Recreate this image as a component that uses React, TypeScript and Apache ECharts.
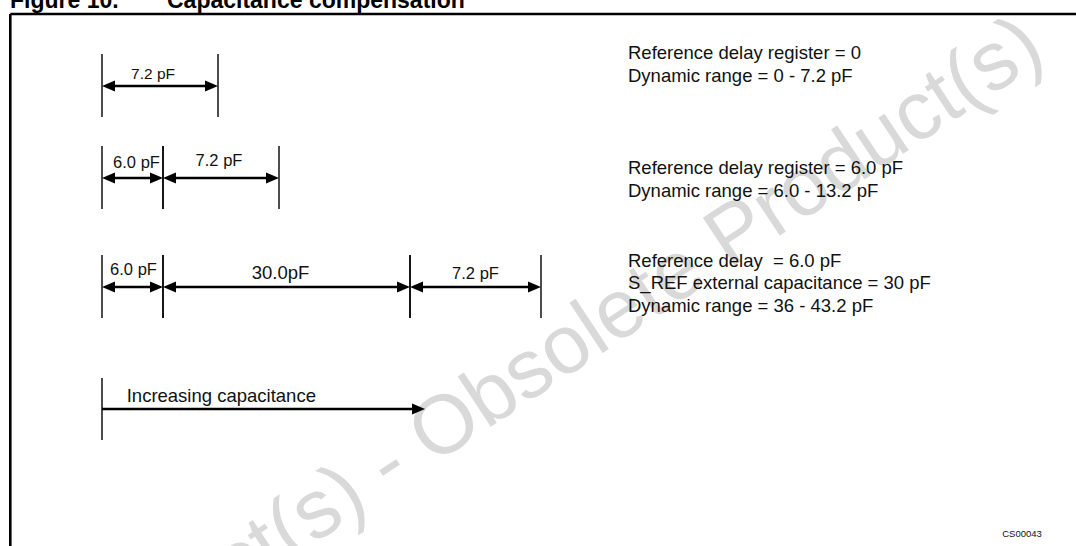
import React, { useEffect, useRef } from "react";
import * as echarts from "echarts";

const W = 1076;
const H = 546;

// ---- content / data ----
const titleNumber = "Figure 10.";
const titleText = "Capacitance compensation";

// dimension segments (positions in figure units along the hidden x axis)
const segmentRow = [0, 1, 1, 2, 2, 2];
const segmentStart = [102, 102, 163, 102, 163, 410];
const segmentEnd = [218, 163, 279, 163, 410, 541];
const segmentLabels = ["7.2 pF", "6.0 pF", "7.2 pF", "6.0 pF", "30.0pF", "7.2 pF"];
const rowLevels = [86, 178, 287];

// "increasing capacitance" arrow
const trendStart = 102;
const trendEnd = 425;
const trendLevel = 409;
const trendLabel = "Increasing capacitance";

const noteBlock1 = ["Reference delay register = 0", "Dynamic range = 0 - 7.2 pF"];
const noteBlock2 = ["Reference delay register = 6.0 pF", "Dynamic range = 6.0 - 13.2 pF"];
const noteBlock3 = [
  "Reference delay  = 6.0 pF",
  "S_REF external capacitance = 30 pF",
  "Dynamic range = 36 - 43.2 pF",
];
const figureCode = "CS00043";
const watermark = "Obsolete Product(s) - Obsolete Product(s)";

// ---- styles / layout ----
const FONT = "'Liberation Sans', Arial, Helvetica, sans-serif";
const labelFontSizes = [15.5, 16.5, 16.5, 16.5, 18.5, 16.5];
const labelDx = [-7, 4, -2, 1, -6, 0];
const labelDy = [-13, -15.6, -17.6, -18.4, -14.4, -14.4];
const NOTE_SIZE = 18.5;
const NOTE_LINE = 22.4;
const noteBaselines = [59.3, 174.3, 266.7];

export default function App() {
  const ref = useRef<HTMLDivElement>(null);

  useEffect(() => {
    if (!ref.current) return;
    const chart = echarts.init(ref.current, undefined, { renderer: "svg" });

    const arrowHead = (tipX: number, y: number, dir: number) => ({
      type: "polygon",
      shape: {
        points: [
          [tipX, y],
          [tipX - dir * 13, y - 5.5],
          [tipX - dir * 13, y + 5.5],
        ],
      },
      style: { fill: "#000" },
    });

    const tick = (x: number, y: number) => ({
      type: "line",
      shape: { x1: x, y1: y - 32, x2: x, y2: y + 31 },
      style: { stroke: "#000", lineWidth: 1.4 },
    });

    const textEl = (
      text: string,
      x: number,
      y: number,
      size: number,
      align: string,
      extra: any = {}
    ) => ({
      type: "text",
      x,
      y,
      style: {
        text,
        fill: "#111",
        fontSize: size,
        fontFamily: FONT,
        align,
        textAlign: align,
        verticalAlign: "middle",
        textVerticalAlign: "middle",
        ...extra,
      },
    });

    const segData = segmentRow.map((r, i) => [segmentStart[i], segmentEnd[i], rowLevels[r], i]);

    const noteElements: any[] = [];
    [noteBlock1, noteBlock2, noteBlock3].forEach((block, b) => {
      block.forEach((line, k) => {
        const baseline = noteBaselines[b] + k * NOTE_LINE;
        noteElements.push({
          ...textEl(line, 628, baseline - NOTE_SIZE * 0.3465, NOTE_SIZE, "left"),
          z: 10,
        });
      });
    });

    const option: any = {
      animation: false,
      backgroundColor: "#fff",
      grid: { left: 0, right: 0, top: 0, bottom: 0 },
      xAxis: { type: "value", min: 0, max: W, show: false },
      yAxis: { type: "value", min: 0, max: H, inverse: true, show: false },
      graphic: [
        {
          type: "text",
          x: 386,
          y: 462,
          rotation: (33.5 * Math.PI) / 180,
          z: 0,
          style: {
            text: watermark,
            fill: "#d9d9d9",
            fontSize: 83,
            fontFamily: FONT,
            align: "center",
            textAlign: "center",
            verticalAlign: "middle",
            textVerticalAlign: "middle",
          },
        },
        {
          type: "line",
          z: 10,
          shape: { x1: 10.3, y1: 14, x2: W, y2: 14 },
          style: { stroke: "#000", lineWidth: 2.6 },
        },
        {
          type: "line",
          z: 10,
          shape: { x1: 10.3, y1: 14, x2: 10.3, y2: H },
          style: { stroke: "#000", lineWidth: 2.6 },
        },
        {
          ...textEl(titleNumber, 10, 0, 23, "left", { fontWeight: "bold", fill: "#000" }),
          z: 10,
        },
        {
          ...textEl(titleText, 167, 0, 23, "left", { fontWeight: "bold", fill: "#000" }),
          z: 10,
        },
        ...noteElements,
        {
          ...textEl(figureCode, 1022, 533, 9.5, "center"),
          z: 10,
        },
      ],
      series: [
        {
          type: "custom",
          z: 5,
          data: segData,
          renderItem: (params: any, api: any) => {
            const idx = api.value(3);
            const p0 = api.coord([api.value(0), api.value(2)]);
            const p1 = api.coord([api.value(1), api.value(2)]);
            const y = p0[1];
            return {
              type: "group",
              children: [
                tick(p0[0], y),
                tick(p1[0], y),
                {
                  type: "line",
                  shape: { x1: p0[0] + 8, y1: y, x2: p1[0] - 8, y2: y },
                  style: { stroke: "#000", lineWidth: 2.6 },
                },
                arrowHead(p0[0], y, -1),
                arrowHead(p1[0], y, 1),
                textEl(
                  segmentLabels[idx],
                  (p0[0] + p1[0]) / 2 + labelDx[idx],
                  y + labelDy[idx],
                  labelFontSizes[idx],
                  "center"
                ),
              ],
            };
          },
        },
        {
          type: "custom",
          z: 5,
          data: [[trendStart, trendEnd, trendLevel]],
          renderItem: (params: any, api: any) => {
            const p0 = api.coord([api.value(0), api.value(2)]);
            const p1 = api.coord([api.value(1), api.value(2)]);
            const y = p0[1];
            return {
              type: "group",
              children: [
                {
                  type: "line",
                  shape: { x1: p0[0], y1: y - 31, x2: p0[0], y2: y + 31 },
                  style: { stroke: "#000", lineWidth: 1.4 },
                },
                {
                  type: "line",
                  shape: { x1: p0[0], y1: y, x2: p1[0] - 8, y2: y },
                  style: { stroke: "#000", lineWidth: 2.6 },
                },
                arrowHead(p1[0], y, 1),
                textEl(trendLabel, p0[0] + 24.7, y - 14, 18.5, "left"),
              ],
            };
          },
        },
      ],
    };

    chart.setOption(option);
    return () => chart.dispose();
  }, []);

  return (
    <div
      ref={ref}
      style={{ position: "fixed", left: 0, top: 0, width: W, height: H, background: "#fff" }}
    />
  );
}
